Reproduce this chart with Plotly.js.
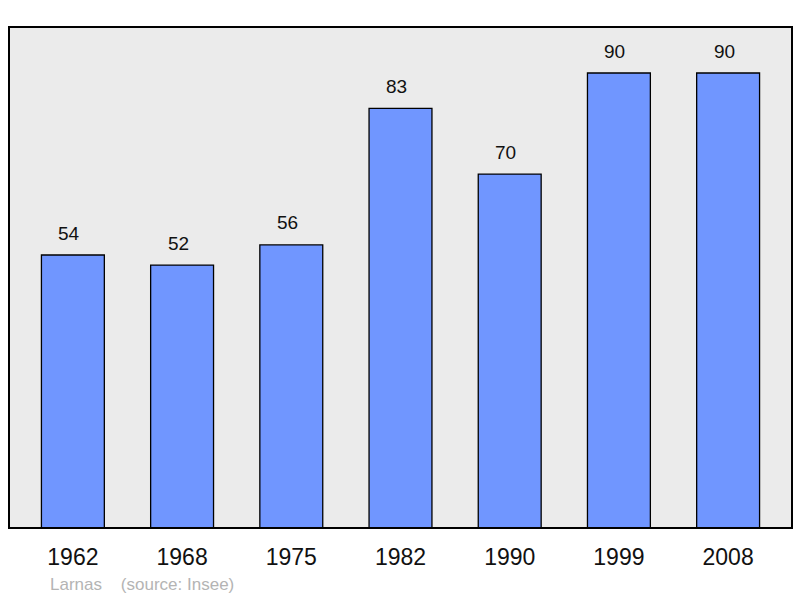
<!DOCTYPE html>
<html>
<head>
<meta charset="utf-8">
<script src="https://cdn.plot.ly/plotly-3.0.1.min.js"></script>
<style>body{margin:0;padding:0;background:#fff;}#chart{width:800px;height:598px;}</style>
</head>
<body>
<div id="chart"></div>
<script>
const years = ["1962", "1968", "1975", "1982", "1990", "1999", "2008"];
const population = [54, 52, 56, 83, 70, 90, 90];
const commune = "Larnas";
const sourceText = "(source: Insee)";

const trace = {
  type: "bar",
  x: years,
  y: population,
  width: 0.576,
  marker: {color: "#7096ff", line: {color: "#000", width: 1.3}},
  hoverinfo: "skip"
};

const annotations = years.map((yr, i) => ({
  x: i, y: population[i], xref: "x", yref: "y",
  text: String(population[i]), showarrow: false,
  yanchor: "middle", yshift: 22, xshift: -4,
  font: {family: "Liberation Sans, Arial, sans-serif", size: 19, color: "#111"}
}));
annotations.push({
  xref: "paper", yref: "paper", x: 0.0498, y: -0.112,
  xanchor: "left", yanchor: "middle", showarrow: false,
  text: commune + "    " + sourceText,
  font: {family: "Liberation Sans, Arial, sans-serif", size: 17, color: "#b4b4b4"}
});

const layout = {
  width: 800, height: 598,
  margin: {l: 9, r: 8, t: 27, b: 70},
  paper_bgcolor: "#ffffff",
  plot_bgcolor: "#ebebeb",
  showlegend: false,
  xaxis: {
    type: "category", range: [-0.585, 6.585],
    showgrid: false, zeroline: false, showline: false, ticks: "",
    ticklabelstandoff: 13,
    tickfont: {family: "Liberation Sans, Arial, sans-serif", size: 23, color: "#111"},
    fixedrange: true
  },
  yaxis: {
    range: [0, 99.1], showgrid: false, zeroline: false, showline: false,
    showticklabels: false, ticks: "", fixedrange: true
  },
  shapes: [{
    type: "rect", xref: "paper", yref: "paper", x0: 0, x1: 1, y0: 0, y1: 1,
    line: {color: "#000", width: 2}, fillcolor: "rgba(0,0,0,0)", layer: "above"
  }],
  annotations: annotations
};

Plotly.newPlot("chart", [trace], layout, {displayModeBar: false, staticPlot: true});
</script>
</body>
</html>
